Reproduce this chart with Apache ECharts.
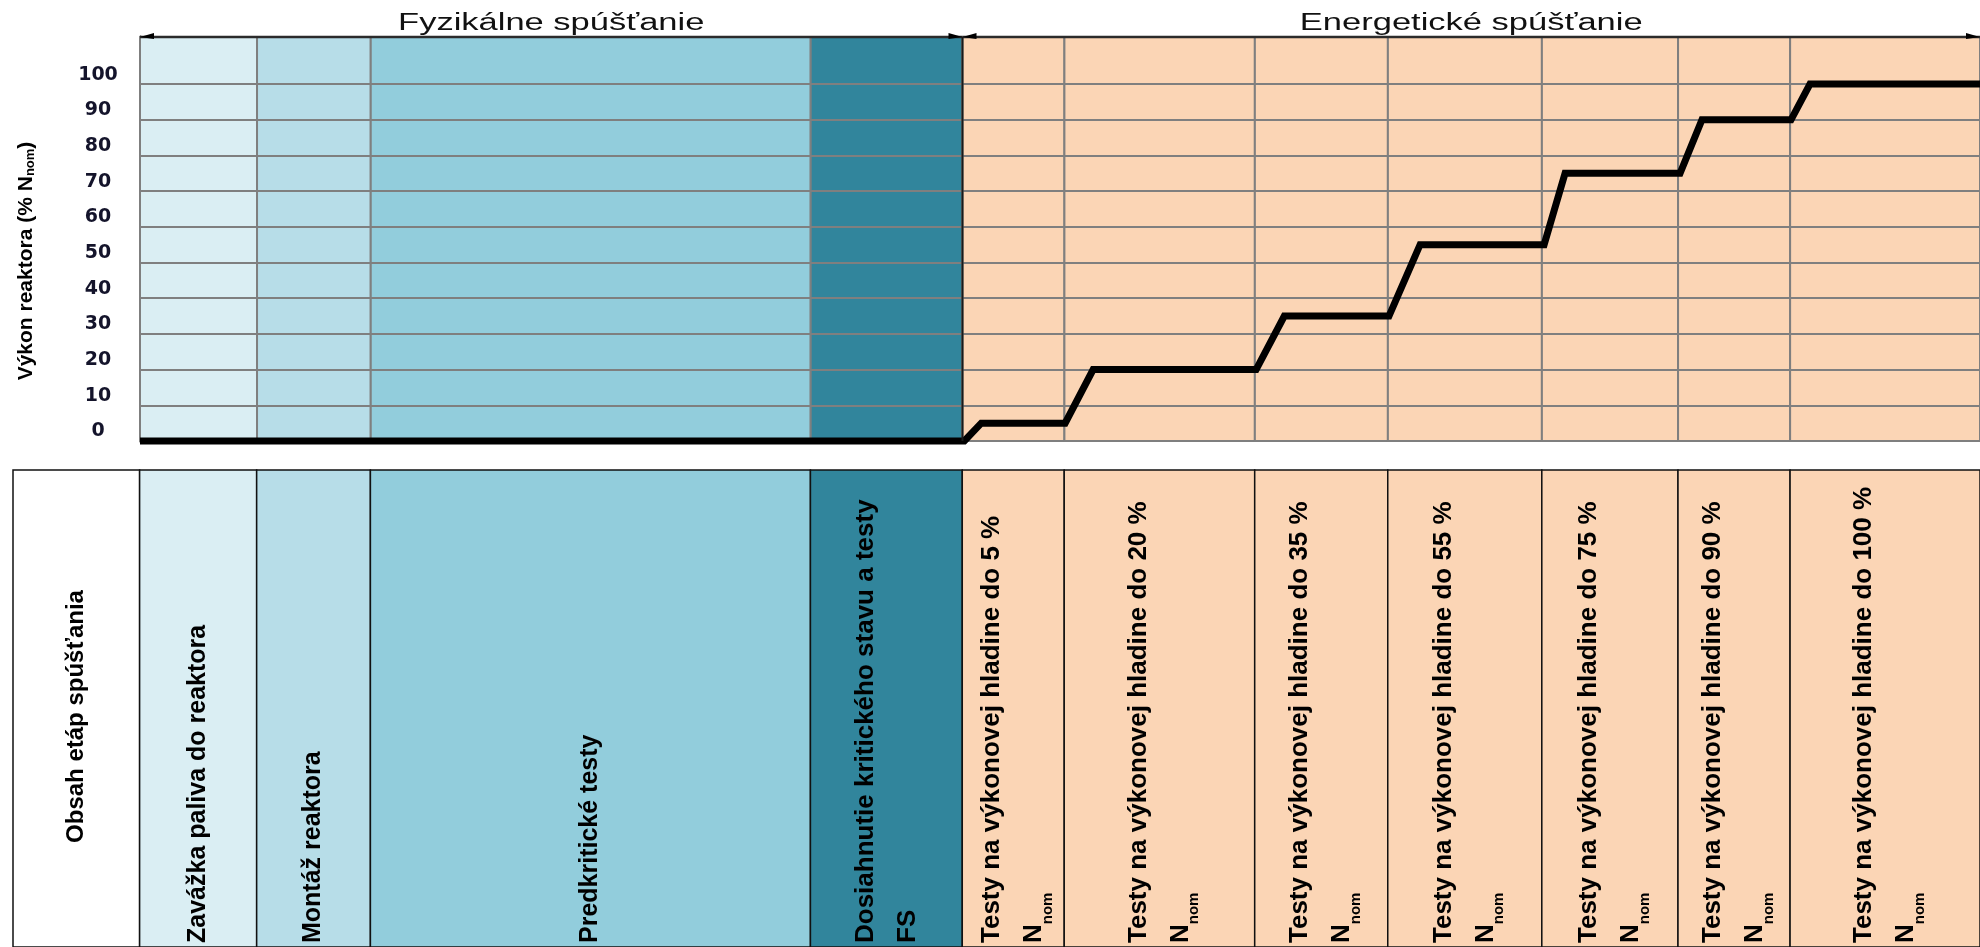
<!DOCTYPE html>
<html>
<head>
<meta charset="utf-8">
<script src="https://cdn.jsdelivr.net/npm/echarts@6/dist/echarts.min.js"></script>
<style>
html,body{margin:0;padding:0;background:#fff;}
#chart{width:1980px;height:947px;}
</style>
</head>
<body>
<div id="chart"></div>
<script>
// ================= DATA =================
// Stage groups (header arrows) and their extents on the timeline axis (0–100 %)
const stageNames = ['Fyzikálne spúšťanie', 'Energetické spúšťanie'];
const stageEdges = [0, 44.70, 100];

// Phases (columns) and their boundaries on the timeline axis
const phaseNames = [
  'Zavážka paliva do reaktora',
  'Montáž reaktora',
  'Predkritické testy',
  'Dosiahnutie kritického stavu a testy\nFS',
  'Testy na výkonovej hladine do 5 %\nN_nom',
  'Testy na výkonovej hladine do 20 %\nN_nom',
  'Testy na výkonovej hladine do 35 %\nN_nom',
  'Testy na výkonovej hladine do 55 %\nN_nom',
  'Testy na výkonovej hladine do 75 %\nN_nom',
  'Testy na výkonovej hladine do 90 %\nN_nom',
  'Testy na výkonovej hladine do 100 %\nN_nom'
];
const phaseEdges = [0, 6.36, 12.54, 36.45, 44.70, 50.24, 60.59, 67.82, 76.19, 83.59, 89.68, 100];

// Row header of the table
const rowHeaderName = 'Obsah etáp spúšťania';
const rowHeaderStart = -6.88;

// Reactor power (% N_nom) along the timeline
const powerX = [0, 44.8, 45.72, 50.28, 51.80, 60.66, 62.19, 67.88, 69.57, 76.31, 77.45, 83.70, 84.89, 89.73, 90.76, 100];
const powerY = [0, 0, 5, 5, 20, 20, 35, 35, 55, 55, 75, 75, 90, 90, 100, 100];

// Y axis ticks
const yTicks = [0, 10, 20, 30, 40, 50, 60, 70, 80, 90, 100];
const yAxisTitle = 'Výkon reaktora (% N_nom)';

// ================= STYLE =================
const Y_TOP = 113.2;
const phaseFills = ['#DAEEF3', '#B7DDE8', '#92CDDC', '#31859C',
  '#FBD5B5', '#FBD5B5', '#FBD5B5', '#FBD5B5', '#FBD5B5', '#FBD5B5', '#FBD5B5'];
const phaseFontSizes = [25, 25, 25, 26, 26, 26, 26, 26, 26, 26, 26];
const FONT = "'Liberation Sans', Arial, sans-serif";
function richNom(fs) {
  return {
    n: { fontSize: fs, fontWeight: 'bold', fontFamily: FONT, lineHeight: 42, fill: '#000' },
    sub: { fontSize: 15, fontWeight: 'bold', fontFamily: FONT, lineHeight: 26, verticalAlign: 'bottom', fill: '#000' }
  };
}
function fmtNom(t, tag) { return t.replace('N_nom', '{n|N}{sub|nom}'); }

// ================= SERIES =================
const bgSeries = {
  type: 'custom', xAxisIndex: 0, yAxisIndex: 0, z: 1, silent: true,
  data: phaseNames.map((n, i) => [phaseEdges[i], phaseEdges[i + 1], i]),
  encode: { x: [0, 1] },
  renderItem: function (params, api) {
    const s = api.value(0), e = api.value(1), i = api.value(2);
    const p0 = api.coord([s, Y_TOP]);
    const p1 = api.coord([e, 0]);
    return {
      type: 'rect',
      shape: { x: p0[0], y: p0[1], width: p1[0] - p0[0], height: p1[1] - p0[1] },
      style: { fill: phaseFills[i], stroke: '#7f7f7f', lineWidth: 2 }
    };
  },
  markLine: {
    silent: true, symbol: 'none', animation: false,
    label: { show: false },
    lineStyle: { color: '#7f7f7f', width: 2, type: 'solid' },
    data: yTicks.filter(v => v > 0).map(v => ({ yAxis: v }))
  }
};

const headerSeries = {
  type: 'custom', xAxisIndex: 0, yAxisIndex: 0, z: 12, silent: true,
  data: stageNames.map((n, i) => [stageEdges[i], stageEdges[i + 1], i]),
  encode: { x: [0, 1] },
  renderItem: function (params, api) {
    const s = api.value(0), e = api.value(1), i = api.value(2);
    const a = api.coord([s, Y_TOP]);
    const b = api.coord([e, Y_TOP]);
    const bottom = api.coord([s, 0]);
    const children = [
      { type: 'line', shape: { x1: a[0], y1: a[1], x2: b[0], y2: b[1] },
        style: { stroke: '#2b2b2b', lineWidth: 2.5 } },
      { type: 'polygon', shape: { points: [[a[0], a[1]], [a[0] + 14, a[1] - 4], [a[0] + 14, a[1] + 2]] },
        style: { fill: '#000' } },
      { type: 'polygon', shape: { points: [[b[0], b[1]], [b[0] - 14, b[1] - 4], [b[0] - 14, b[1] + 2]] },
        style: { fill: '#000' } },
      { type: 'text', x: (a[0] + b[0]) / 2, y: a[1] - 13, scaleX: 1.5,
        style: { text: stageNames[i], fontSize: 23, fontFamily: FONT, fill: '#111',
          align: 'center', verticalAlign: 'middle' } }
    ];
    if (i > 0) {
      children.push({ type: 'line', shape: { x1: a[0], y1: a[1], x2: bottom[0], y2: bottom[1] },
        style: { stroke: '#1a1a1a', lineWidth: 2 } });
    }
    return { type: 'group', children: children };
  }
};

const powerSeries = {
  type: 'line', xAxisIndex: 0, yAxisIndex: 0, z: 10, silent: true, clip: false,
  data: powerX.map((x, i) => [x, powerY[i]]),
  showSymbol: false, symbol: 'none',
  lineStyle: { color: '#000', width: 7, join: 'miter' },
  animation: false
};

const tableData = [[rowHeaderStart, 0, -1]].concat(
  phaseNames.map((n, i) => [phaseEdges[i], phaseEdges[i + 1], i]));

const tableSeries = {
  type: 'custom', xAxisIndex: 1, yAxisIndex: 1, z: 5, silent: true,
  data: tableData,
  encode: { x: [0, 1] },
  renderItem: function (params, api) {
    const s = api.value(0), e = api.value(1), i = api.value(2);
    const p0 = api.coord([s, 1]);
    const p1 = api.coord([e, 0]);
    const cx = (p0[0] + p1[0]) / 2;
    const rect = {
      type: 'rect',
      shape: { x: p0[0], y: p0[1], width: p1[0] - p0[0], height: p1[1] - p0[1] },
      style: { fill: i < 0 ? '#ffffff' : phaseFills[i], stroke: '#111', lineWidth: 1.5 }
    };
    let text;
    if (i < 0) {
      text = { type: 'text', x: cx, y: (p0[1] + p1[1]) / 2 + 8, rotation: Math.PI / 2,
        style: { text: rowHeaderName, fontSize: 24, fontWeight: 'bold', fontFamily: FONT,
          fill: '#000', align: 'center', verticalAlign: 'middle' } };
    } else {
      const fs = phaseFontSizes[i];
      text = { type: 'text', x: cx, y: p1[1] - 4, rotation: Math.PI / 2,
        style: { text: fmtNom(phaseNames[i]), fontSize: fs, fontWeight: 'bold', fontFamily: FONT,
          lineHeight: 42, fill: '#000', align: 'left', verticalAlign: 'middle', rich: richNom(fs) } };
    }
    return { type: 'group', children: [rect, text] };
  }
};

// ================= OPTION =================
const option = {
  animation: false,
  backgroundColor: '#ffffff',
  grid: [
    { left: 140, right: 0, top: 37, height: 404, containLabel: false },
    { left: 13, right: 0, top: 470, bottom: 0, containLabel: false }
  ],
  xAxis: [
    { type: 'value', gridIndex: 0, min: 0, max: 100,
      axisLine: { show: true, lineStyle: { color: '#333', width: 2 } },
      axisTick: { show: false }, axisLabel: { show: false }, splitLine: { show: false } },
    { type: 'value', gridIndex: 1, min: rowHeaderStart, max: 100, show: false }
  ],
  yAxis: [
    { type: 'value', gridIndex: 0, min: 0, max: Y_TOP, interval: 10,
      axisLine: { show: true, lineStyle: { color: '#2b2b2b', width: 3 } },
      axisTick: { show: false }, splitLine: { show: false },
      axisLabel: { margin: 42, align: 'center', verticalAlign: 'bottom',
        fontFamily: "'DejaVu Sans', sans-serif", fontWeight: 'bold', fontSize: 19, color: '#14142b',
        formatter: v => (yTicks.indexOf(v) >= 0 ? String(v) : '') },
      name: 'Výkon reaktora (% {n|N}{sub|nom})',
      nameLocation: 'middle', nameRotate: 90, nameGap: 103,
      nameTextStyle: { fontFamily: FONT, fontWeight: 'bold', fontSize: 21, color: '#000',
        padding: [0, 44, 0, 0],
        rich: {
          n: { fontFamily: FONT, fontWeight: 'bold', fontSize: 21, color: '#000' },
          sub: { fontFamily: FONT, fontWeight: 'bold', fontSize: 13, color: '#000', verticalAlign: 'bottom', lineHeight: 16 }
        } } },
    { type: 'value', gridIndex: 1, min: 0, max: 1, show: false }
  ],
  series: [bgSeries, powerSeries, headerSeries, tableSeries]
};

const chart = echarts.init(document.getElementById('chart'), null, { renderer: 'canvas' });
chart.setOption(option);
</script>
</body>
</html>
